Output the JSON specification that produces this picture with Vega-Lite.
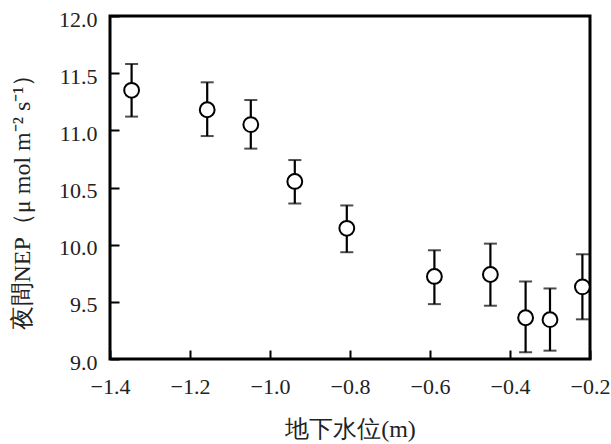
{
  "$schema": "https://vega.github.io/schema/vega-lite/v6.json",
  "width": 480,
  "height": 343,
  "autosize": "none",
  "padding": {"left": 110, "top": 16, "right": 21, "bottom": 85},
  "background": "white",
  "config": {
    "view": {"stroke": "black", "strokeWidth": 3}
  },
  "data": {
    "values": [
      {"x": -1.346, "y": 11.35, "lo": 11.12, "hi": 11.58},
      {"x": -1.157, "y": 11.18, "lo": 10.95, "hi": 11.42},
      {"x": -1.048, "y": 11.05, "lo": 10.84, "hi": 11.265},
      {"x": -0.938, "y": 10.553, "lo": 10.36, "hi": 10.74},
      {"x": -0.808, "y": 10.143, "lo": 9.934, "hi": 10.343},
      {"x": -0.589, "y": 9.722, "lo": 9.48, "hi": 9.951},
      {"x": -0.449, "y": 9.739, "lo": 9.466, "hi": 10.009},
      {"x": -0.361, "y": 9.361, "lo": 9.059, "hi": 9.678},
      {"x": -0.3, "y": 9.344, "lo": 9.073, "hi": 9.617},
      {"x": -0.219, "y": 9.631, "lo": 9.347, "hi": 9.916}
    ]
  },
  "encoding": {
    "x": {
      "field": "x",
      "type": "quantitative",
      "scale": {"domain": [-1.4, -0.2], "nice": false, "zero": false},
      "axis": {
        "values": [-1.4, -1.2, -1.0, -0.8, -0.6, -0.4, -0.2],
        "format": ".1f",
        "grid": false,
        "domain": false,
        "offset": -9,
        "tickColor": "black",
        "tickWidth": 2,
        "tickSize": 9,
        "labelFont": "Liberation Serif",
        "labelFontSize": 22,
        "labelColor": "#222",
        "labelPadding": 17,
        "labelFlush": false,
        "labelOverlap": false,
        "title": "地下水位(m)",
        "titleFont": "Liberation Serif",
        "titleFontSize": 24,
        "titleFontWeight": "normal",
        "titleColor": "#222",
        "titlePadding": 20
      }
    }
  },
  "layer": [
    {
      "mark": {"type": "errorbar", "ticks": {"size": 13, "thickness": 2, "color": "black"}, "thickness": 2.2, "color": "black", "clip": true},
      "encoding": {
        "y": {
          "field": "lo",
          "type": "quantitative",
          "scale": {"domain": [9.0, 12.0], "nice": false, "zero": false},
          "axis": {
            "values": [9.0, 9.5, 10.0, 10.5, 11.0, 11.5, 12.0],
            "format": ".1f",
            "grid": false,
            "domain": false,
            "offset": -9,
            "tickColor": "black",
            "tickWidth": 2,
            "tickSize": 9,
            "labelFont": "Liberation Serif",
            "labelFontSize": 22,
            "labelColor": "#222",
            "labelPadding": 13,
            "labelOffset": 3,
            "labelFlush": false,
            "labelOverlap": false,
            "title": "夜間NEP（μ mol m⁻² s⁻¹）",
            "titleFont": "Liberation Serif",
            "titleFontSize": 24,
            "titleFontWeight": "normal",
            "titleColor": "#222",
            "titlePadding": 24,
            "titleY": 180
          }
        },
        "y2": {"field": "hi"}
      }
    },
    {
      "mark": {"type": "point", "shape": "circle", "filled": false, "fill": "white", "stroke": "black", "strokeWidth": 2, "size": 220, "opacity": 1, "clip": true},
      "encoding": {
        "y": {"field": "y", "type": "quantitative"}
      }
    }
  ]
}
